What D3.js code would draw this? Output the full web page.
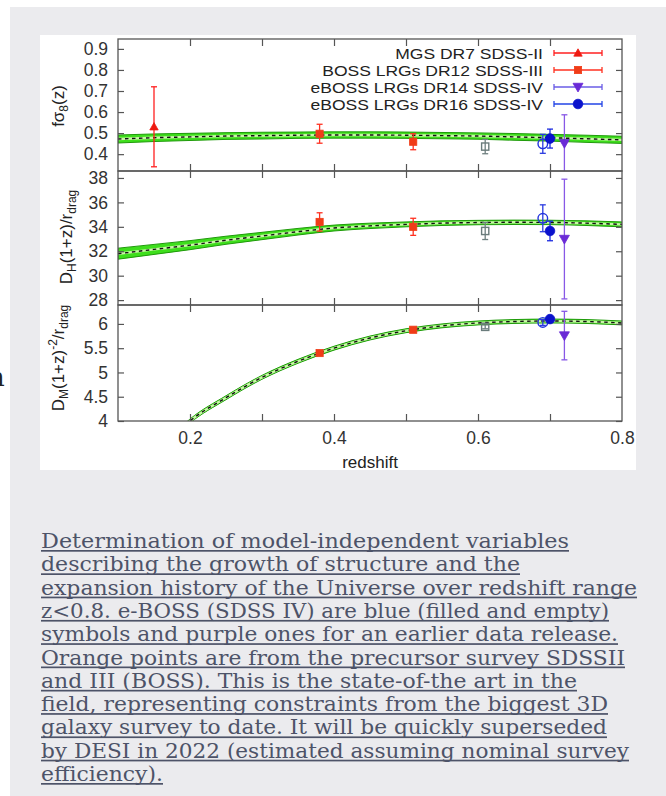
<!DOCTYPE html>
<html><head><meta charset="utf-8">
<script src="https://cdn.jsdelivr.net/npm/d3@7"></script>
<style>body{margin:0;background:#fff}svg{display:block}</style>
</head><body>
<svg id="c" width="666" height="796"></svg>
<script>
// ---------- data ----------
const zModel   = [0.10,0.15,0.20,0.25,0.30,0.35,0.40,0.45,0.50,0.55,0.60,0.65,0.70,0.75,0.80];
const fs8Model = [0.472,0.478,0.482,0.486,0.488,0.490,0.491,0.491,0.490,0.488,0.486,0.482,0.478,0.473,0.468];
const fs8Band  = [0.019,0.018,0.017,0.016,0.016,0.015,0.015,0.015,0.015,0.015,0.015,0.016,0.016,0.017,0.017];
const dhModel  = [31.8,32.15,32.5,32.9,33.25,33.6,33.9,34.08,34.2,34.3,34.35,34.37,34.36,34.3,34.2];
const dhBand   = [0.45,0.41,0.37,0.33,0.30,0.27,0.24,0.22,0.20,0.19,0.18,0.18,0.18,0.19,0.20];
const dmModel  = [2.45,3.25,4.0,4.48,4.9,5.23,5.5,5.71,5.86,5.96,6.02,6.05,6.06,6.05,6.02];
const dmBand   = [0.04,0.04,0.04,0.04,0.04,0.04,0.04,0.04,0.04,0.04,0.04,0.04,0.04,0.04,0.04];

const surveyNames = ["MGS DR7 SDSS-II","BOSS LRGs DR12 SDSS-III","eBOSS LRGs DR14 SDSS-IV","eBOSS LRGs DR16 SDSS-IV"];
const surveyKinds = ["mgs","boss","eboss14","eboss16"];

const ptZ    = [0.15, 0.38, 0.51, 0.61, 0.69, 0.70, 0.72];
const ptKind = ["mgs","boss","boss","gray","eboss16open","eboss16","eboss14"];
const fs8Val = [0.53, 0.497, 0.459, 0.436, 0.449, 0.474, 0.452];
const fs8Err = [0.19, 0.045, 0.038, 0.034, 0.045, 0.045, 0.135];
const dhVal  = [null, 34.4, 34.0, 33.66, 34.7, 33.66, 33.0];
const dhErr  = [null, 0.75, 0.70, 0.70, 1.1, 0.8, 4.9];
const dmVal  = [null, 5.40, 5.88, 5.94, 6.03, 6.10, 5.76];
const dmErr  = [null, 0.04, 0.04, 0.04, 0.06, 0.05, 0.5];

const xTicks = [0.2,0.3,0.4,0.5,0.6,0.7];
const xTickLabels = [0.2,0.4,0.6,0.8];
const fs8Ticks = [0.4,0.5,0.6,0.7,0.8,0.9];
const dhTicks = [28,30,32,34,36,38];
const dmTicks = [4,4.5,5,5.5,6];

const captionLines = [
 "Determination of model-independent variables",
 "describing the growth of structure and the",
 "expansion history of the Universe over redshift range",
 "z<0.8. e-BOSS (SDSS IV) are blue (filled and empty)",
 "symbols and purple ones for an earlier data release.",
 "Orange points are from the precursor survey SDSSII",
 "and III (BOSS). This is the state-of-the art in the",
 "field, representing constraints from the biggest 3D",
 "galaxy survey to date. It will be quickly superseded",
 "by DESI in 2022 (estimated assuming nominal survey",
 "efficiency)."
];
const captionEnds = [569,520,637,609,618,625,577,608,607,629,163];

// ---------- styles ----------
const styles = {
  mgs:        {bar:"#ff2020", fill:"#ee1a10", stroke:"#ee1a10", shape:"triUp"},
  boss:       {bar:"#ff3020", fill:"#f03c18", stroke:"#f03c18", shape:"square"},
  gray:       {bar:"#6f8080", fill:"none",    stroke:"#6a7c7c", shape:"square"},
  eboss16open:{bar:"#2a3ae0", fill:"none",    stroke:"#2233dd", shape:"circle"},
  eboss16:    {bar:"#1a2ae0", fill:"#0a12cc", stroke:"#0a12cc", shape:"circle"},
  eboss14:    {bar:"#8858e6", fill:"#6a2ad6", stroke:"#6a2ad6", shape:"triDown"}
};
const legendBar = {mgs:"#ff2020", boss:"#ff3020", eboss14:"#6a5ce6", eboss16:"#2244e6"};

const svg = d3.select("#c");
svg.append("rect").attr("width",666).attr("height",796).attr("fill","#fff");
svg.append("rect").attr("x",10).attr("y",7).attr("width",656).attr("height",789).attr("fill","#ebebee");
svg.append("rect").attr("x",40).attr("y",35).attr("width",596).attr("height",435).attr("fill","#fff");
svg.append("text").attr("x",-12).attr("y",386).attr("font-family","DejaVu Serif").attr("font-size",26).attr("fill","#222").text("n");

const x = d3.scaleLinear().domain([0.1,0.8]).range([118,622]);
const AX = "'Liberation Sans', Arial, sans-serif";
const FS = 17.5;

const panels = [
  {id:"p1", top:39,  bottom:171, domain:[0.32,0.947], ticks:fs8Ticks, fmt:d3.format(".1f"), model:fs8Model, band:fs8Band, val:fs8Val, err:fs8Err},
  {id:"p2", top:171, bottom:305, domain:[27.6,38.57], ticks:dhTicks, fmt:d3.format("d"), model:dhModel, band:dhBand, val:dhVal, err:dhErr},
  {id:"p3", top:305, bottom:421, domain:[4,6.39], ticks:dmTicks, fmt:d=> (d%1? d3.format(".1f")(d): d3.format("d")(d)), model:dmModel, band:dmBand, val:dmVal, err:dmErr}
];

const defs = svg.append("defs");

function marker(g, kind, cx, cy, s){
  const st = styles[kind] || {};
  const shape = st.shape;
  const sc = s||1;
  let el;
  if(shape==="square"){
    const h = 3.6*sc;
    el = g.append("rect").attr("x",cx-h).attr("y",cy-h).attr("width",2*h).attr("height",2*h);
  } else if(shape==="circle"){
    el = g.append("circle").attr("cx",cx).attr("cy",cy).attr("r",4.8*sc);
  } else if(shape==="triUp"){
    const h=4.2*sc;
    el = g.append("path").attr("d",`M${cx},${cy-h}L${cx+h},${cy+h*0.75}L${cx-h},${cy+h*0.75}Z`);
  } else {
    const h=5*sc;
    el = g.append("path").attr("d",`M${cx},${cy+h}L${cx+h},${cy-h*0.75}L${cx-h},${cy-h*0.75}Z`);
  }
  el.attr("fill", st.fill==="none" ? "none" : st.fill)
    .attr("stroke", st.stroke).attr("stroke-width", st.fill==="none"?1.4:0.8);
}

panels.forEach((p,pi)=>{
  const y = d3.scaleLinear().domain(p.domain).range([p.bottom,p.top]);
  defs.append("clipPath").attr("id","clip"+pi).append("rect")
    .attr("x",118).attr("y",p.top).attr("width",504).attr("height",p.bottom-p.top);
  const g = svg.append("g");
  const gc = g.append("g").attr("clip-path",`url(#clip${pi})`);
  const rows = zModel.map((z,i)=>({z, m:p.model[i], b:p.band[i]}));
  const area = d3.area().x(d=>x(d.z)).y0(d=>y(d.m-d.b)).y1(d=>y(d.m+d.b)).curve(d3.curveMonotoneX);
  const line = d3.line().x(d=>x(d.z)).y(d=>y(d.m)).curve(d3.curveMonotoneX);
  gc.append("path").attr("d",area(rows)).attr("fill","#3ede1c").attr("stroke","#1f9a0a").attr("stroke-width",1);
  gc.append("path").attr("d",line(rows)).attr("fill","none").attr("stroke","#c8f7a6").attr("stroke-width",2.4);
  gc.append("path").attr("d",line(rows)).attr("fill","none").attr("stroke","#111").attr("stroke-width",1.4).attr("stroke-dasharray","3.5,3.5");

  ptZ.forEach((z,i)=>{
    const v = p.val[i]; if(v==null) return;
    const e = p.err[i], k = ptKind[i], st = styles[k];
    const cx = x(z);
    const ylo = y(v-e), yhi = y(v+e);
    gc.append("line").attr("x1",cx).attr("x2",cx).attr("y1",ylo).attr("y2",yhi).attr("stroke",st.bar).attr("stroke-width",1.3);
    [ylo,yhi].forEach(yy=>gc.append("line").attr("x1",cx-3).attr("x2",cx+3).attr("y1",yy).attr("y2",yy).attr("stroke",st.bar).attr("stroke-width",1.3));
    marker(gc,k,cx,y(v));
  });

  const ay = g.append("g").attr("transform","translate(118,0)")
    .call(d3.axisLeft(y).tickValues(p.ticks).tickFormat(p.fmt).tickSize(-6).tickPadding(10));
  const ayr = g.append("g").attr("transform","translate(622,0)")
    .call(d3.axisRight(y).tickValues(p.ticks).tickFormat("").tickSize(-6));
  const axb = g.append("g").attr("transform",`translate(0,${p.bottom})`)
    .call(d3.axisBottom(x).tickValues(xTicks).tickFormat("").tickSize(-7));
  const axt = g.append("g").attr("transform",`translate(0,${p.top})`)
    .call(d3.axisTop(x).tickValues(xTicks).tickFormat("").tickSize(-7));
  [ay,ayr,axb,axt].forEach(a=>{
    a.select(".domain").remove();
    a.selectAll(".tick line").attr("stroke","#555").attr("stroke-width",1.2);
    a.selectAll("text").attr("font-family",AX).attr("font-size",FS).attr("fill","#333");
  });
  g.append("rect").attr("x",118).attr("y",p.top).attr("width",504).attr("height",p.bottom-p.top)
    .attr("fill","none").attr("stroke","#555").attr("stroke-width",1.3);
  if(pi===2){
    const al = g.append("g").attr("transform",`translate(0,${p.bottom})`)
      .call(d3.axisBottom(x).tickValues(xTickLabels).tickFormat(d3.format(".1f")).tickSize(0).tickPadding(11));
    al.select(".domain").remove();
    al.selectAll("text").attr("font-family",AX).attr("font-size",FS).attr("fill","#333");
  }
});

function ylab(cx, cy, parts){
  const t = svg.append("text").attr("transform",`translate(${cx},${cy}) rotate(-90)`)
    .attr("text-anchor","middle").attr("font-family",AX).attr("font-size",17).attr("fill","#222");
  parts.forEach(pt=>{
    t.append("tspan").attr("dy",pt.dy||0).attr("font-size",pt.fs||17).text(pt.t);
  });
}
ylab(64,106,[{t:"fσ"},{t:"8",dy:4,fs:12},{t:"(z)",dy:-4}]);
ylab(72,237,[{t:"D"},{t:"H",dy:4,fs:12},{t:"(1+z)/r",dy:-4},{t:"drag",dy:4,fs:12}]);
ylab(64,358,[{t:"D"},{t:"M",dy:4,fs:12},{t:"(1+z)",dy:-4},{t:"-2",dy:-7,fs:12},{t:"/r",dy:7},{t:"drag",dy:4,fs:12}]);

svg.append("text").attr("x",370).attr("y",468).attr("text-anchor","middle")
  .attr("font-family",AX).attr("font-size",17).attr("fill","#222").text("redshift");

// legend: measure at full size, draw at smaller size stretched to same width
const legY = [53,70,87,104];
surveyNames.forEach((name,i)=>{
  const yy = legY[i], k = surveyKinds[i];
  const t = svg.append("text").attr("x",543).attr("y",yy+5.5).attr("text-anchor","end")
    .attr("font-family",AX).attr("font-size",FS).attr("fill","#222").text(name);
  const w = t.node().getComputedTextLength();
  t.attr("font-size",14.8).attr("textLength",w).attr("lengthAdjust","spacingAndGlyphs");
  const c = legendBar[k];
  svg.append("line").attr("x1",554).attr("x2",602).attr("y1",yy).attr("y2",yy).attr("stroke",c).attr("stroke-width",1.3);
  [554,602].forEach(xx=>svg.append("line").attr("x1",xx).attr("x2",xx).attr("y1",yy-3).attr("y2",yy+3).attr("stroke",c).attr("stroke-width",1.3));
  marker(svg,k,578,yy);
});

// caption
const capColor = "#4d5368";
captionLines.forEach((ln,i)=>{
  const by = 548 + i*23.3;
  const w = captionEnds[i]-41;
  svg.append("text").attr("x",41).attr("y",by).attr("font-family","'DejaVu Serif', serif")
    .attr("font-size",19.5).attr("fill",capColor).attr("textLength",w).attr("lengthAdjust","spacingAndGlyphs").text(ln);
  svg.append("rect").attr("x",41).attr("y",by+2).attr("width",w).attr("height",1.7).attr("fill",capColor);
});
</script>
</body></html>
